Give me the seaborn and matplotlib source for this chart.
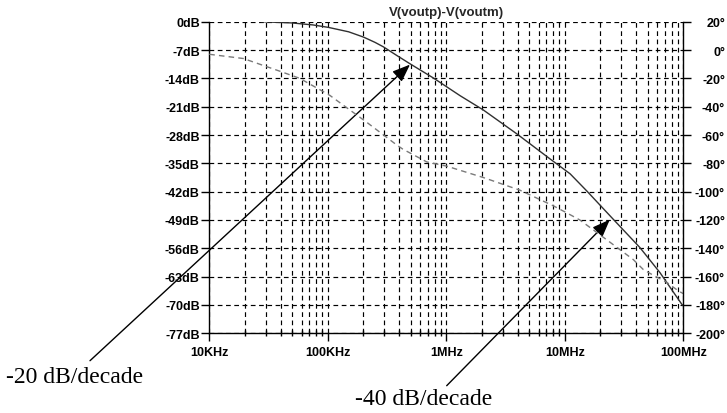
import numpy as np
import pandas as pd
import matplotlib
matplotlib.use("Agg")
import matplotlib.pyplot as plt
import seaborn as sns
from matplotlib.ticker import FixedLocator, NullFormatter

# ---------------- data ----------------
freq_mag = [27.3e3, 49.5e3, 75e3, 101e3, 150e3, 200e3, 250e3, 294e3, 380e3, 494e3,
            777e3, 1.31e6, 2.05e6, 3.93e6, 7.5e6, 11.1e6, 15.3e6, 25.6e6, 43e6,
            63.5e6, 97e6, 100e6]
mag_db = [0, -0.3, -0.8, -1.4, -2.5, -3.8, -5.1, -6.2, -8.3, -10.4,
          -13.9, -18.3, -21.8, -27.7, -33.9, -37.6, -41.8, -48.8, -55.8,
          -62.0, -69.8, -70.2]

freq_ph = [10e3, 19.4e3, 39.5e3, 58e3, 104e3, 213e3, 381e3, 430e3, 684e3, 1.01e6,
           2.05e6, 4.19e6, 8.0e6, 10.4e6, 13.4e6, 22.6e6, 37.9e6, 46e6, 55.8e6,
           72.4e6, 90.7e6, 100e6]
phase_deg = [-3, -6, -15, -20, -32, -51, -67, -70, -79, -82,
             -90, -99, -110, -115, -120, -134, -148, -155, -159,
             -164, -170, -172]

x_ticks = [1e4, 1e5, 1e6, 1e7, 1e8]
x_labels = ["10KHz", "100KHz", "1MHz", "10MHz", "100MHz"]
db_ticks = [0, -7, -14, -21, -28, -35, -42, -49, -56, -63, -70, -77]
db_labels = [f"{v}dB" for v in db_ticks]
deg_ticks = [20, 0, -20, -40, -60, -80, -100, -120, -140, -160, -180, -200]
deg_labels = [f"{v}°" for v in deg_ticks]

title = "V(voutp)-V(voutm)"
note1 = "-20 dB/decade"
note2 = "-40 dB/decade"

# ---------------- style ----------------
sns.set_theme(style="white")
plt.rcParams["font.family"] = ["Liberation Sans", "DejaVu Sans"]

W, H = 727, 414
fig = plt.figure(figsize=(W / 100, H / 100), dpi=100)
ax = fig.add_axes([209.3 / W, 1 - 334.3 / H, (683.3 - 209.3) / W, (334.3 - 22.7) / H])
ax.set_xscale("log")

df_mag = pd.DataFrame({"f": freq_mag, "db": mag_db})
df_ph = pd.DataFrame({"f": freq_ph, "deg": phase_deg})

sns.lineplot(data=df_mag, x="f", y="db", ax=ax, color="#303030", lw=1.0,
             estimator=None, sort=False, zorder=5)
ax.set_xlim(1e4, 1e8)
ax.set_ylim(-77, 0)

ax2 = ax.twinx()
sns.lineplot(data=df_ph, x="f", y="deg", ax=ax2, color="#7a7a7a", lw=1.0,
             estimator=None, sort=False, linestyle=(0, (4, 3)))
ax2.set_ylim(-200, 20)
ax2.set_xlim(1e4, 1e8)

# ticks
ax.xaxis.set_major_locator(FixedLocator(x_ticks))
ax.set_xticklabels(x_labels)
minors = [m * d for d in [1e4, 1e5, 1e6, 1e7] for m in range(2, 10)]
ax.xaxis.set_minor_locator(FixedLocator(minors))
ax.xaxis.set_minor_formatter(NullFormatter())
ax.set_yticks(db_ticks)
ax.set_yticklabels(db_labels)
ax2.set_yticks(deg_ticks)
ax2.set_yticklabels(deg_labels)

ax.set_xlabel("")
ax.set_ylabel("")
ax2.set_ylabel("")

dash = (0, (4, 3))
ax.grid(True, which="both", axis="x", color="black", lw=0.85, linestyle=dash)
ax.grid(True, which="major", axis="y", color="black", lw=0.85, linestyle=dash)

ax.tick_params(axis="y", direction="out", length=6, width=1, pad=0.8,
               labelsize=9, colors="black", left=True)
ax.tick_params(axis="x", which="major", direction="out", length=6, width=1,
               pad=3, labelsize=9, colors="black", bottom=True)
ax.tick_params(axis="x", which="minor", direction="inout", length=5, width=1,
               colors="black", bottom=True)
ax2.tick_params(axis="y", direction="out", length=6, width=1, pad=24,
                labelsize=9, colors="black", right=True)

for lab in ax.get_xticklabels() + ax.get_yticklabels() + ax2.get_yticklabels():
    lab.set_fontweight("bold")
for lab in ax2.get_yticklabels():
    lab.set_horizontalalignment("right")

for s in ["top", "right"]:
    ax.spines[s].set_visible(False)
for s in ["left", "bottom"]:
    ax.spines[s].set_color("black")
    ax.spines[s].set_linewidth(1)
for s in ["top", "left", "bottom"]:
    ax2.spines[s].set_visible(False)
ax2.spines["right"].set_color("black")
ax2.spines["right"].set_linewidth(1)

ax.set_title(title, fontsize=9.5, fontweight="bold", pad=5)

# annotations
arrowprops = dict(arrowstyle="-|>,head_length=0.9,head_width=0.35",
                  color="black", lw=1.0, shrinkA=0, shrinkB=0)
ax.annotate("", xy=(494e3, -10.6), xycoords="data",
            xytext=(90 / W, 1 - 361.7 / H), textcoords="figure fraction",
            arrowprops=arrowprops, annotation_clip=False)
ax.annotate("", xy=(24e6, -48.9), xycoords="data",
            xytext=(446.7 / W, 1 - 386.7 / H), textcoords="figure fraction",
            arrowprops=arrowprops, annotation_clip=False)
fig.text(74.5 / W, 1 - 378 / H, note1, family="Liberation Serif", size=17,
         ha="center", va="center", color="black")
fig.text(423.3 / W, 1 - 400 / H, note2, family="Liberation Serif", size=17,
         ha="center", va="center", color="black")

fig.savefig("out.png", dpi=100, facecolor="white")
